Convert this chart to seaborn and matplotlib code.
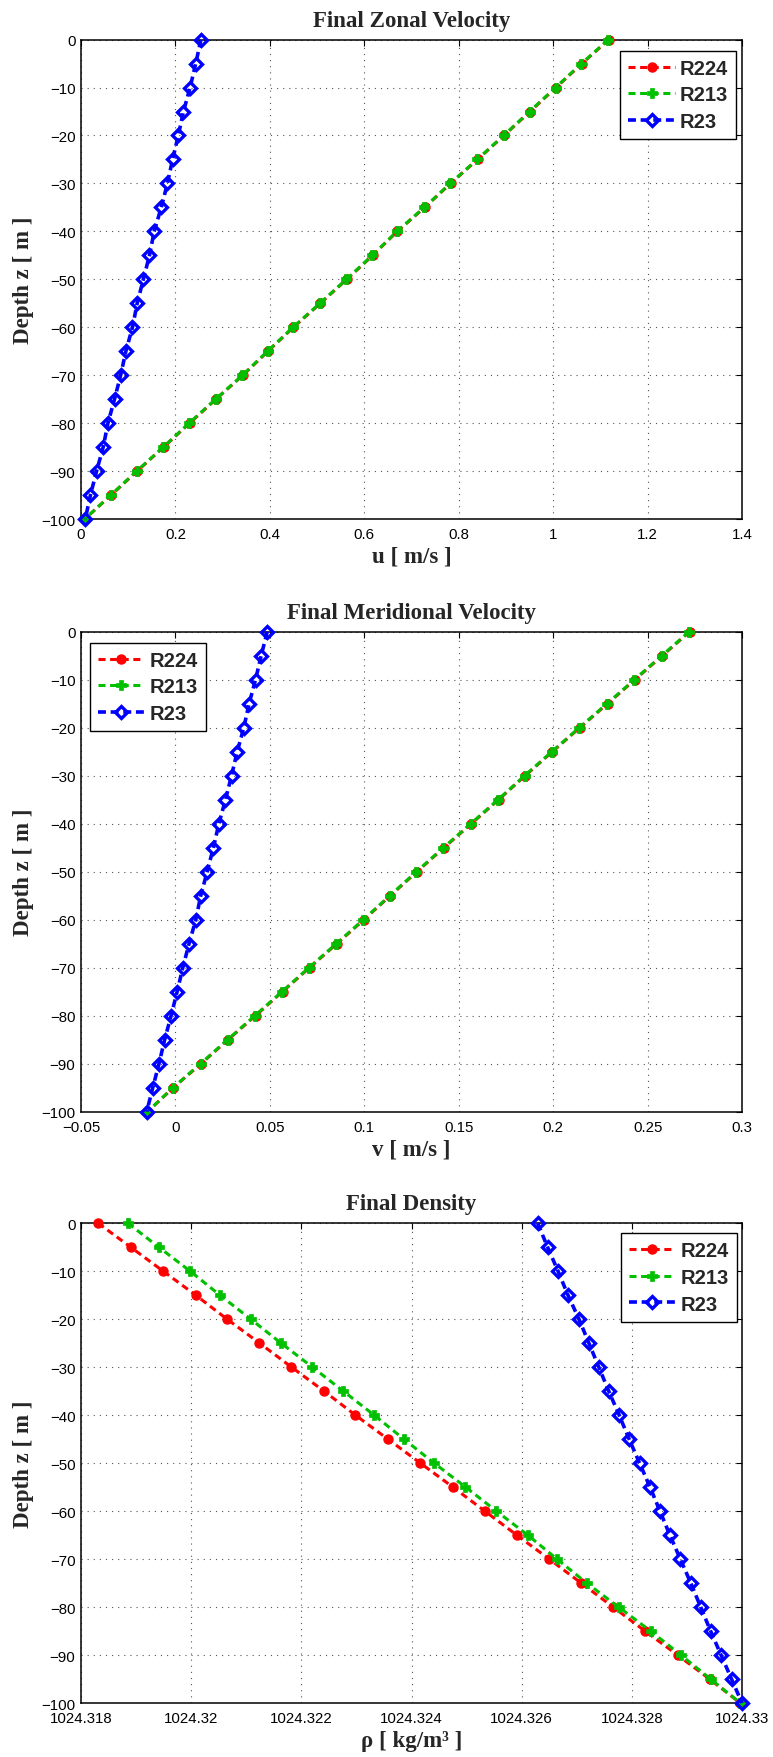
import matplotlib
matplotlib.use("Agg")
import matplotlib.pyplot as plt
import seaborn as sns

# ---------------------------------------------------------------- data
depth = [0, -5, -10, -15, -20, -25, -30, -35, -40, -45, -50,
         -55, -60, -65, -70, -75, -80, -85, -90, -95, -100]

# zonal velocity u [m/s]
u_r224 = [1.118, 1.061, 1.006, 0.951, 0.896, 0.840, 0.783, 0.728, 0.670, 0.618, 0.563,
          0.507, 0.450, 0.396, 0.343, 0.286, 0.230, 0.175, 0.119, 0.064, 0.008]
u_r213 = [1.117, 1.060, 1.005, 0.950, 0.895, 0.839, 0.782, 0.727, 0.669, 0.617, 0.562,
          0.506, 0.449, 0.395, 0.342, 0.285, 0.229, 0.174, 0.118, 0.063, 0.008]
u_r23 = [0.254, 0.243, 0.231, 0.217, 0.206, 0.194, 0.183, 0.170, 0.155, 0.145, 0.132,
         0.119, 0.109, 0.095, 0.084, 0.071, 0.057, 0.047, 0.033, 0.020, 0.009]

# meridional velocity v [m/s]
v_r224 = [0.2723, 0.2578, 0.2433, 0.2288, 0.2141, 0.1996, 0.1852, 0.1711, 0.1567, 0.1422, 0.1279,
          0.1138, 0.0998, 0.0855, 0.0710, 0.0567, 0.0424, 0.0279, 0.0136, -0.0011, -0.0147]
v_r213 = [0.2720, 0.2575, 0.2430, 0.2285, 0.2138, 0.1993, 0.1849, 0.1708, 0.1564, 0.1419, 0.1276,
          0.1135, 0.0995, 0.0852, 0.0707, 0.0564, 0.0421, 0.0276, 0.0133, -0.0013, -0.0148]
v_r23 = [0.0486, 0.0454, 0.0424, 0.0390, 0.0362, 0.0327, 0.0297, 0.0265, 0.0230, 0.0201, 0.0168,
         0.0134, 0.0108, 0.0072, 0.0039, 0.0009, -0.0023, -0.0057, -0.0087, -0.0120, -0.0152]

# density rho [kg/m^3]
rho_r224 = [1024.31831, 1024.31890, 1024.31949, 1024.32008, 1024.32065, 1024.32124, 1024.32182,
            1024.32241, 1024.32298, 1024.32357, 1024.32416, 1024.32475, 1024.32533, 1024.32591,
            1024.32650, 1024.32708, 1024.32766, 1024.32824, 1024.32883, 1024.32941, 1024.32997]
rho_r213 = [1024.31885, 1024.31941, 1024.31998, 1024.32052, 1024.32108, 1024.32163, 1024.32220,
            1024.32276, 1024.32332, 1024.32386, 1024.32441, 1024.32498, 1024.32554, 1024.32611,
            1024.32664, 1024.32718, 1024.32776, 1024.32834, 1024.32889, 1024.32943, 1024.32997]
rho_r23 = [1024.32629, 1024.32647, 1024.32666, 1024.32684, 1024.32704, 1024.32722, 1024.32740,
           1024.32758, 1024.32777, 1024.32795, 1024.32814, 1024.32833, 1024.32851, 1024.32869,
           1024.32888, 1024.32907, 1024.32925, 1024.32943, 1024.32962, 1024.32981, 1024.33000]

runs = ["R224", "R213", "R23"]

depth_ticks = [0, -10, -20, -30, -40, -50, -60, -70, -80, -90, -100]
u_ticks = [0, 0.2, 0.4, 0.6, 0.8, 1.0, 1.2, 1.4]
u_ticklabels = ["0", "0.2", "0.4", "0.6", "0.8", "1", "1.2", "1.4"]
v_ticks = [-0.05, 0, 0.05, 0.1, 0.15, 0.2, 0.25, 0.3]
v_ticklabels = ["\u22120.05", "0", "0.05", "0.1", "0.15", "0.2", "0.25", "0.3"]
rho_ticks = [1024.318, 1024.320, 1024.322, 1024.324, 1024.326, 1024.328, 1024.330]
rho_ticklabels = ["1024.318", "1024.32", "1024.322", "1024.324", "1024.326", "1024.328", "1024.33"]

# ---------------------------------------------------------------- style
sns.set_style("white")
plt.rcParams["font.family"] = ["Liberation Sans", "DejaVu Sans"]
plt.rcParams["axes.unicode_minus"] = True

styles = {
    "R224": dict(color="#ff0000", marker="o", markersize=6.5, markerfacecolor="#ff0000",
                 markeredgecolor="#ff0000", markeredgewidth=1.0,
                 linewidth=2.2, linestyle=(0, (2.3, 1.5))),
    "R213": dict(color="#00c000", marker="P", markersize=6.5, markerfacecolor="#00c000",
                 markeredgecolor="#00c000", markeredgewidth=0.5,
                 linewidth=2.2, linestyle=(0, (2.3, 1.5))),
    "R23": dict(color="#0000ff", marker="D", markersize=6.3, markerfacecolor="none",
                markeredgecolor="#0000ff", markeredgewidth=2.4,
                linewidth=2.6, linestyle=(0, (2.2, 1.3))),
}

serif_bold = dict(fontfamily=["Liberation Serif", "DejaVu Serif"], fontweight="bold", fontsize=16.5)

fig = plt.figure(figsize=(7.73, 17.58), dpi=100)
positions = [
    [0.1048, 0.7042, 0.8551, 0.2727],
    [0.1048, 0.3671, 0.8551, 0.2730],
    [0.1048, 0.0307, 0.8551, 0.2730],
]

panels = [
    dict(profiles={"R224": u_r224, "R213": u_r213, "R23": u_r23},
         xlim=(0, 1.4), xticks=u_ticks, xticklabels=u_ticklabels,
         xlabel="u [ m/s ]", title="Final Zonal Velocity",
         leg_loc="upper right", leg_anchor=(0.991, 0.977)),
    dict(profiles={"R224": v_r224, "R213": v_r213, "R23": v_r23},
         xlim=(-0.05, 0.3), xticks=v_ticks, xticklabels=v_ticklabels,
         xlabel="v [ m/s ]", title="Final Meridional Velocity",
         leg_loc="upper left", leg_anchor=(0.0136, 0.977)),
    dict(profiles={"R224": rho_r224, "R213": rho_r213, "R23": rho_r23},
         xlim=(1024.318, 1024.330), xticks=rho_ticks, xticklabels=rho_ticklabels,
         xlabel="\u03c1 [ kg/m\u00b3 ]", title="Final Density",
         leg_loc="upper right", leg_anchor=(0.992, 0.979)),
]

for pos, p in zip(positions, panels):
    ax = fig.add_axes(pos)
    for run in runs:
        sns.lineplot(x=p["profiles"][run], y=depth, ax=ax, sort=False, estimator=None,
                     label=run, clip_on=False, zorder=3, **styles[run])

    ax.set_xlim(*p["xlim"])
    ax.set_ylim(-100, 0)
    ax.set_xticks(p["xticks"])
    ax.set_xticklabels(p["xticklabels"])
    ax.set_yticks(depth_ticks)

    ax.set_axisbelow(True)
    ax.grid(True, linestyle=(0, (1, 4.5)), linewidth=0.8, color="#555555")
    ax.tick_params(direction="in", top=True, right=True, length=4, width=0.8,
                   labelsize=10.8, colors="black")
    ax.tick_params(axis="x", pad=6)
    ax.tick_params(axis="y", pad=4)
    for s in ax.spines.values():
        s.set_visible(True)
        s.set_color("black")
        s.set_linewidth(1.1)

    ax.set_title(p["title"], pad=10, **serif_bold)
    ax.set_xlabel(p["xlabel"], labelpad=3, **serif_bold)
    ax.set_ylabel("Depth z [ m ]", labelpad=5, **serif_bold)

    leg = ax.legend(loc=p["leg_loc"], bbox_to_anchor=p["leg_anchor"], borderaxespad=0,
                    prop=dict(family=["Liberation Sans", "DejaVu Sans"], weight="bold", size=14.5),
                    handlelength=2.3, handletextpad=0.25, labelspacing=0.38,
                    borderpad=0.4, fancybox=False, framealpha=1, edgecolor="black")
    leg.get_frame().set_linewidth(1.0)

fig.savefig("out.png", dpi=100)
